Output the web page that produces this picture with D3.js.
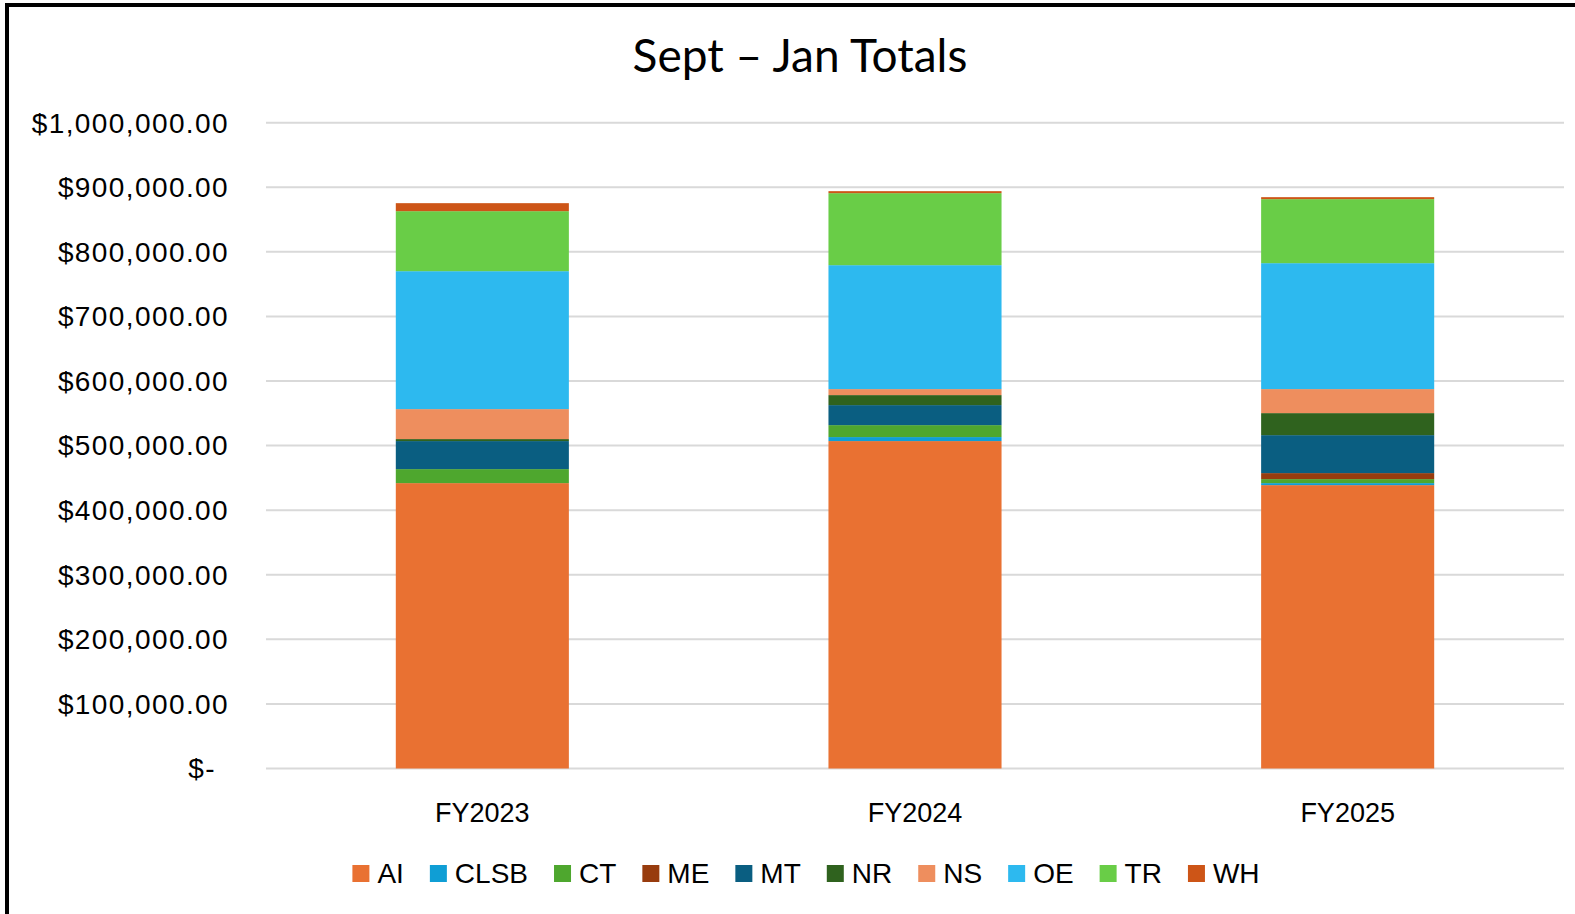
<!DOCTYPE html>
<html>
<head>
<meta charset="utf-8">
<script src="https://cdn.jsdelivr.net/npm/d3@7"></script>
<style>
  body { margin: 0; background: #fff; }
  svg { display: block; }
</style>
</head>
<body>
<div id="chart"></div>
<script>

var svgWidth = 1575;
var svgHeight = 914;

// chart data
var categories = ["FY2023", "FY2024", "FY2025"];
var seriesNames = ["AI", "CLSB", "CT", "ME", "MT", "NR", "NS", "OE", "TR", "WH"];
var aiValues   = [441900, 507000, 438800];
var clsbValues = [0, 6200, 3100];
var ctValues   = [21700, 18500, 6200];
var meValues   = [0, 0, 9300];
var mtValues   = [43400, 31000, 58800];
var nrValues   = [3100, 15500, 34100];
var nsValues   = [46400, 9300, 37200];
var oeValues   = [213600, 191900, 195000];
var trValues   = [92900, 111500, 99100];
var whValues   = [12400, 3100, 3100];
var yTicks = [0, 100000, 200000, 300000, 400000, 500000, 600000, 700000, 800000, 900000, 1000000];

var colors = ["#E97132", "#0F9ED5", "#4EA72E", "#983C0E", "#0A5E81",
              "#2F621E", "#EE8E5E", "#2DB9EF", "#69CD47", "#CD5517"];

var seriesValues = [aiValues, clsbValues, ctValues, meValues, mtValues,
                    nrValues, nsValues, oeValues, trValues, whValues];

// table for d3.stack
var tableData = categories.map(function (c, i) {
  var row = { category: c };
  seriesNames.forEach(function (s, j) { row[s] = seriesValues[j][i]; });
  return row;
});

var plot = { left: 266, right: 1564, top: 122.7, bottom: 768.5 };

var svg = d3.select("#chart")
  .append("svg")
  .attr("width", svgWidth)
  .attr("height", svgHeight);

// frame lines (left + top)
svg.append("line")
  .attr("x1", 7).attr("x2", 7).attr("y1", 3).attr("y2", svgHeight)
  .attr("stroke", "#000").attr("stroke-width", 4);
svg.append("line")
  .attr("x1", 5).attr("x2", svgWidth).attr("y1", 5).attr("y2", 5)
  .attr("stroke", "#000").attr("stroke-width", 4);

var xScale = d3.scaleBand()
  .domain(categories)
  .range([plot.left, plot.right])
  .paddingInner(0.6)
  .paddingOuter(0.3);

var yScale = d3.scaleLinear()
  .domain([0, 1000000])
  .range([plot.bottom, plot.top]);

// gridlines
svg.append("g")
  .selectAll("line")
  .data(yTicks)
  .enter()
  .append("line")
  .attr("x1", plot.left)
  .attr("x2", plot.right)
  .attr("y1", d => yScale(d))
  .attr("y2", d => yScale(d))
  .attr("stroke", "#d9d9d9")
  .attr("stroke-width", 2);

// y tick labels, accounting style
var fmt = d3.format(",.2f");
svg.append("g")
  .selectAll("text")
  .data(yTicks)
  .enter()
  .append("text")
  .attr("x", d => d === 0 ? 216 : 229)
  .attr("y", d => yScale(d))
  .attr("dy", "0.35em")
  .attr("text-anchor", "end")
  .attr("font-family", "Liberation Sans, Arial, sans-serif")
  .attr("font-size", 28)
  .attr("letter-spacing", "1.4px")
  .attr("fill", "#000")
  .text(d => d === 0 ? "$-" : "$" + fmt(d));

// stacked bars
var stacked = d3.stack().keys(seriesNames)(tableData);

svg.append("g")
  .selectAll("g")
  .data(stacked)
  .enter()
  .append("g")
  .attr("fill", (d, i) => colors[i])
  .selectAll("rect")
  .data(d => d)
  .enter()
  .append("rect")
  .attr("x", d => xScale(d.data.category))
  .attr("width", xScale.bandwidth())
  .attr("y", d => yScale(d[1]))
  .attr("height", d => yScale(d[0]) - yScale(d[1]));

// category labels
svg.append("g")
  .selectAll("text")
  .data(categories)
  .enter()
  .append("text")
  .attr("x", d => xScale(d) + xScale.bandwidth() / 2)
  .attr("y", 822)
  .attr("text-anchor", "middle")
  .attr("font-family", "Liberation Sans, Arial, sans-serif")
  .attr("font-size", 27)
  .attr("fill", "#000")
  .text(d => d);

// title
svg.append("text")
  .attr("x", 800)
  .attr("y", 72)
  .attr("text-anchor", "middle")
  .attr("font-family", "Lato, 'Open Sans', sans-serif")
  .attr("font-size", 46)
  .attr("fill", "#000")
  .text("Sept \u2013 Jan Totals");

// legend
var legend = svg.append("g");
var lx = 0;
seriesNames.forEach(function (s, i) {
  var item = legend.append("g").attr("transform", `translate(${lx}, 0)`);
  item.append("rect")
    .attr("x", 0).attr("y", 865)
    .attr("width", 17).attr("height", 17)
    .attr("fill", colors[i]);
  var t = item.append("text")
    .attr("x", 25).attr("y", 883)
    .attr("font-family", "Liberation Sans, Arial, sans-serif")
    .attr("font-size", 28)
    .attr("fill", "#000")
    .text(s);
  lx += 25 + t.node().getComputedTextLength() + 26;
});
var legendWidth = lx - 26;
legend.attr("transform", `translate(${806 - legendWidth / 2}, 0)`);

</script>
</body>
</html>
